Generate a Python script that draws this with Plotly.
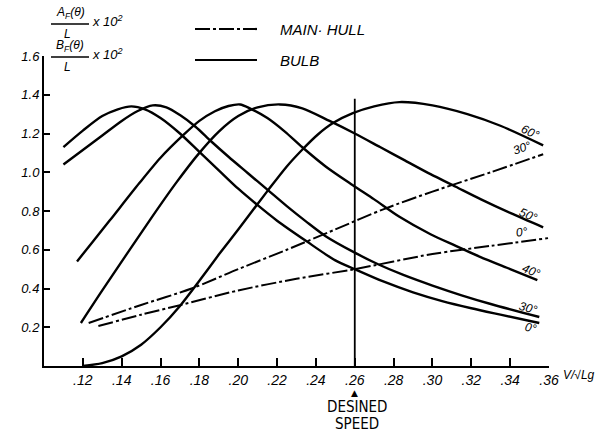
import math
import plotly.graph_objects as go

# Froude number V/sqrt(Lg) against amplitude-function ratios (x 10^2)
# Bulb: B_F(theta)/L, solid curves
bulb_0_x = [0.110, 0.120, 0.130, 0.138, 0.145, 0.152, 0.160, 0.170, 0.180, 0.190, 0.200, 0.210, 0.220, 0.235, 0.250, 0.260, 0.275, 0.290, 0.305, 0.320, 0.335, 0.355]
bulb_0_y = [1.13, 1.215, 1.29, 1.325, 1.34, 1.325, 1.28, 1.20, 1.105, 1.01, 0.915, 0.83, 0.75, 0.645, 0.545, 0.50, 0.435, 0.38, 0.335, 0.298, 0.265, 0.222]

bulb_30_x = [0.110, 0.120, 0.130, 0.140, 0.148, 0.156, 0.163, 0.170, 0.178, 0.186, 0.195, 0.205, 0.215, 0.225, 0.235, 0.245, 0.260, 0.272, 0.285, 0.300, 0.315, 0.330, 0.355]
bulb_30_y = [1.04, 1.115, 1.19, 1.265, 1.315, 1.345, 1.335, 1.295, 1.235, 1.16, 1.08, 0.995, 0.91, 0.825, 0.745, 0.67, 0.585, 0.525, 0.47, 0.415, 0.365, 0.32, 0.253]

bulb_40_x = [0.117, 0.125, 0.134, 0.149, 0.160, 0.1715, 0.180, 0.188, 0.195, 0.201, 0.206, 0.215, 0.224, 0.233, 0.245, 0.259, 0.270, 0.283, 0.299, 0.312, 0.3245, 0.340, 0.354]
bulb_40_y = [0.54, 0.64, 0.753, 0.943, 1.075, 1.19, 1.265, 1.315, 1.342, 1.35, 1.33, 1.28, 1.21, 1.129, 1.03, 0.933, 0.86, 0.77, 0.68, 0.62, 0.563, 0.50, 0.443]

bulb_50_x = [0.119, 0.130, 0.1545, 0.168, 0.180, 0.190, 0.200, 0.210, 0.2215, 0.233, 0.247, 0.260, 0.273, 0.286, 0.299, 0.312, 0.325, 0.340, 0.357]
bulb_50_y = [0.222, 0.39, 0.753, 0.945, 1.10, 1.21, 1.29, 1.335, 1.35, 1.33, 1.265, 1.20, 1.13, 1.06, 0.99, 0.925, 0.86, 0.79, 0.716]

bulb_60_x = [0.120, 0.130, 0.140, 0.150, 0.160, 0.170, 0.180, 0.190, 0.200, 0.2148, 0.225, 0.2328, 0.241, 0.249, 0.259, 0.270, 0.283, 0.300, 0.318, 0.335, 0.357]
bulb_60_y = [0.0, 0.015, 0.05, 0.11, 0.20, 0.31, 0.44, 0.575, 0.705, 0.90, 1.03, 1.115, 1.195, 1.255, 1.305, 1.34, 1.362, 1.345, 1.30, 1.24, 1.139]

# Main hull: A_F(theta)/L, dash-dot curves
hull_0_x = [0.128, 0.150, 0.170, 0.200, 0.230, 0.260, 0.300, 0.330, 0.3595]
hull_0_y = [0.206, 0.265, 0.314, 0.39, 0.45, 0.50, 0.578, 0.62, 0.66]

hull_30_x = [0.123, 0.150, 0.176, 0.200, 0.225, 0.250, 0.275, 0.300, 0.330, 0.357]
hull_30_y = [0.222, 0.315, 0.40, 0.50, 0.60, 0.705, 0.81, 0.90, 1.00, 1.093]

design_speed = 0.26
design_line_top = 1.38

x_ticks = [0.12, 0.14, 0.16, 0.18, 0.20, 0.22, 0.24, 0.26, 0.28, 0.30, 0.32, 0.34, 0.36]
x_tick_text = [".12", ".14", ".16", ".18", ".20", ".22", ".24", ".26", ".28", ".30", ".32", ".34", ".36"]
y_ticks = [0.2, 0.4, 0.6, 0.8, 1.0, 1.2, 1.4, 1.6]
y_tick_text = ["0.2", "0.4", "0.6", "0.8", "1.0", "1.2", "1.4", "1.6"]

X_RANGE = [0.10, 0.36]
Y_RANGE = [0.0, 1.6]
W, H = 602, 432
M = dict(l=44, r=53, t=56, b=66)
PW = W - M["l"] - M["r"]
PH = H - M["t"] - M["b"]
PX_PER_X = PW / (X_RANGE[1] - X_RANGE[0])
PX_PER_Y = PH / (Y_RANGE[1] - Y_RANGE[0])

HAND = "Liberation Sans, Arial, sans-serif"
NARROW = "DejaVu Sans Condensed, Liberation Sans Narrow, Liberation Sans, sans-serif"
HULL_DASH = "15px,3px,3px,3px"


def italic(s):
    return f"<i>{s}</i>"


fig = go.Figure()

series = [
    (bulb_0_x, bulb_0_y, "solid", 2.4, "0°", -8, -5),
    (bulb_30_x, bulb_30_y, "solid", 2.4, "30°", -11, 9),
    (bulb_40_x, bulb_40_y, "solid", 2.4, "40°", -6, 9),
    (bulb_50_x, bulb_50_y, "solid", 2.4, "50°", -15, 12),
    (bulb_60_x, bulb_60_y, "solid", 2.4, "60°", -13, 13),
    (hull_0_x, hull_0_y, HULL_DASH, 2.0, "0°", -26, 6),
    (hull_30_x, hull_30_y, HULL_DASH, 2.0, "30°", -21, 6),
]

annotations = []
for xs, ys, dash, width, label, dx, dy in series:
    fig.add_trace(go.Scatter(x=xs, y=ys, mode="lines",
                             line=dict(color="black", width=width, dash=dash, shape="spline", smoothing=0.8),
                             showlegend=False, hoverinfo="skip"))
    # angle label placed at the end of its curve, tilted along the last segment
    ddx = (xs[-1] - xs[-2]) * PX_PER_X
    ddy = (ys[-1] - ys[-2]) * PX_PER_Y
    angle = -math.degrees(math.atan2(ddy, ddx))
    annotations.append(dict(x=xs[-1], y=ys[-1], xref="x", yref="y", text=italic(label),
                            showarrow=False, xanchor="center", yanchor="middle",
                            xshift=dx, yshift=dy, textangle=angle,
                            font=dict(family=HAND, size=12, color="black")))

# design speed marker
fig.add_trace(go.Scatter(x=[design_speed, design_speed], y=[0, design_line_top], mode="lines",
                         line=dict(color="black", width=1.8), showlegend=False, hoverinfo="skip"))

annotations += [
    dict(x=design_speed, y=0, xref="x", yref="paper", text="▲", showarrow=False,
         xanchor="center", yanchor="middle", yshift=-27,
         font=dict(family="DejaVu Sans, sans-serif", size=9, color="black")),
    dict(x=design_speed, y=0, xref="x", yref="paper", text="DESINED", showarrow=False,
         xanchor="center", yanchor="middle", xshift=2, yshift=-41,
         font=dict(family=NARROW, size=15, color="black")),
    dict(x=design_speed, y=0, xref="x", yref="paper", text="SPEED", showarrow=False,
         xanchor="center", yanchor="middle", xshift=2, yshift=-58,
         font=dict(family=NARROW, size=15, color="black")),
    dict(x=X_RANGE[1], y=0, xref="x", yref="paper", text=italic("V/√Lg"), showarrow=False,
         xanchor="left", yanchor="middle", xshift=12, yshift=-9,
         font=dict(family=HAND, size=12, color="black")),
]


def px_to_paper(px, py):
    return (px - M["l"]) / PW, (H - M["b"] - py) / PH


# y-axis quantity labels: A_F(theta)/L x 10^2 and B_F(theta)/L x 10^2
shapes = []
for sym, bar in (("A", 24), ("B", 57)):
    nx, ny = px_to_paper(70, bar - 1)
    annotations.append(dict(x=nx, y=ny, xref="paper", yref="paper",
                            text=italic(f"{sym}<sub>F</sub>(θ)"), showarrow=False,
                            xanchor="center", yanchor="bottom",
                            font=dict(family=HAND, size=12, color="black")))
    lx, ly = px_to_paper(67, bar + 1)
    annotations.append(dict(x=lx, y=ly, xref="paper", yref="paper", text=italic("L"), showarrow=False,
                            xanchor="center", yanchor="top",
                            font=dict(family=HAND, size=12, color="black")))
    ex, ey = px_to_paper(90, bar - 3)
    annotations.append(dict(x=ex, y=ey, xref="paper", yref="paper", text=italic("x 10<sup>2</sup>"),
                            showarrow=False, xanchor="left", yanchor="middle",
                            font=dict(family=HAND, size=13, color="black")))
    bx0, by = px_to_paper(51, bar)
    bx1, _ = px_to_paper(89, bar)
    shapes.append(dict(type="line", xref="paper", yref="paper", x0=bx0, x1=bx1, y0=by, y1=by,
                       line=dict(color="black", width=1.3)))

# key
for text, py, dash in (("MAIN· HULL", 29, HULL_DASH), ("BULB", 60, "solid")):
    x0, y0 = px_to_paper(195, py)
    x1, _ = px_to_paper(257, py)
    shapes.append(dict(type="line", xref="paper", yref="paper", x0=x0, x1=x1, y0=y0, y1=y0,
                       line=dict(color="black", width=2.2, dash=dash)))
    tx, ty = px_to_paper(278, py + 1)
    annotations.append(dict(x=tx, y=ty, xref="paper", yref="paper", text=italic(text), showarrow=False,
                            xanchor="left", yanchor="middle",
                            font=dict(family=HAND, size=15, color="black")))

fig.update_layout(
    width=W, height=H, margin=M,
    paper_bgcolor="white", plot_bgcolor="white",
    showlegend=False,
    annotations=annotations, shapes=shapes,
    xaxis=dict(range=X_RANGE, tickvals=x_ticks, ticktext=[italic(t) for t in x_tick_text],
               ticks="inside", ticklen=8, tickwidth=1.8, tickcolor="black",
               showline=True, linewidth=2, linecolor="black", showgrid=False, zeroline=False,
               tickfont=dict(family=HAND, size=14, color="black")),
    yaxis=dict(range=Y_RANGE, tickvals=y_ticks, ticktext=[italic(t) for t in y_tick_text],
               ticks="inside", ticklen=6, tickwidth=1.8, tickcolor="black",
               showline=True, linewidth=2, linecolor="black", showgrid=False, zeroline=False,
               tickfont=dict(family=HAND, size=13, color="black")),
)

fig.write_html("out.html")
